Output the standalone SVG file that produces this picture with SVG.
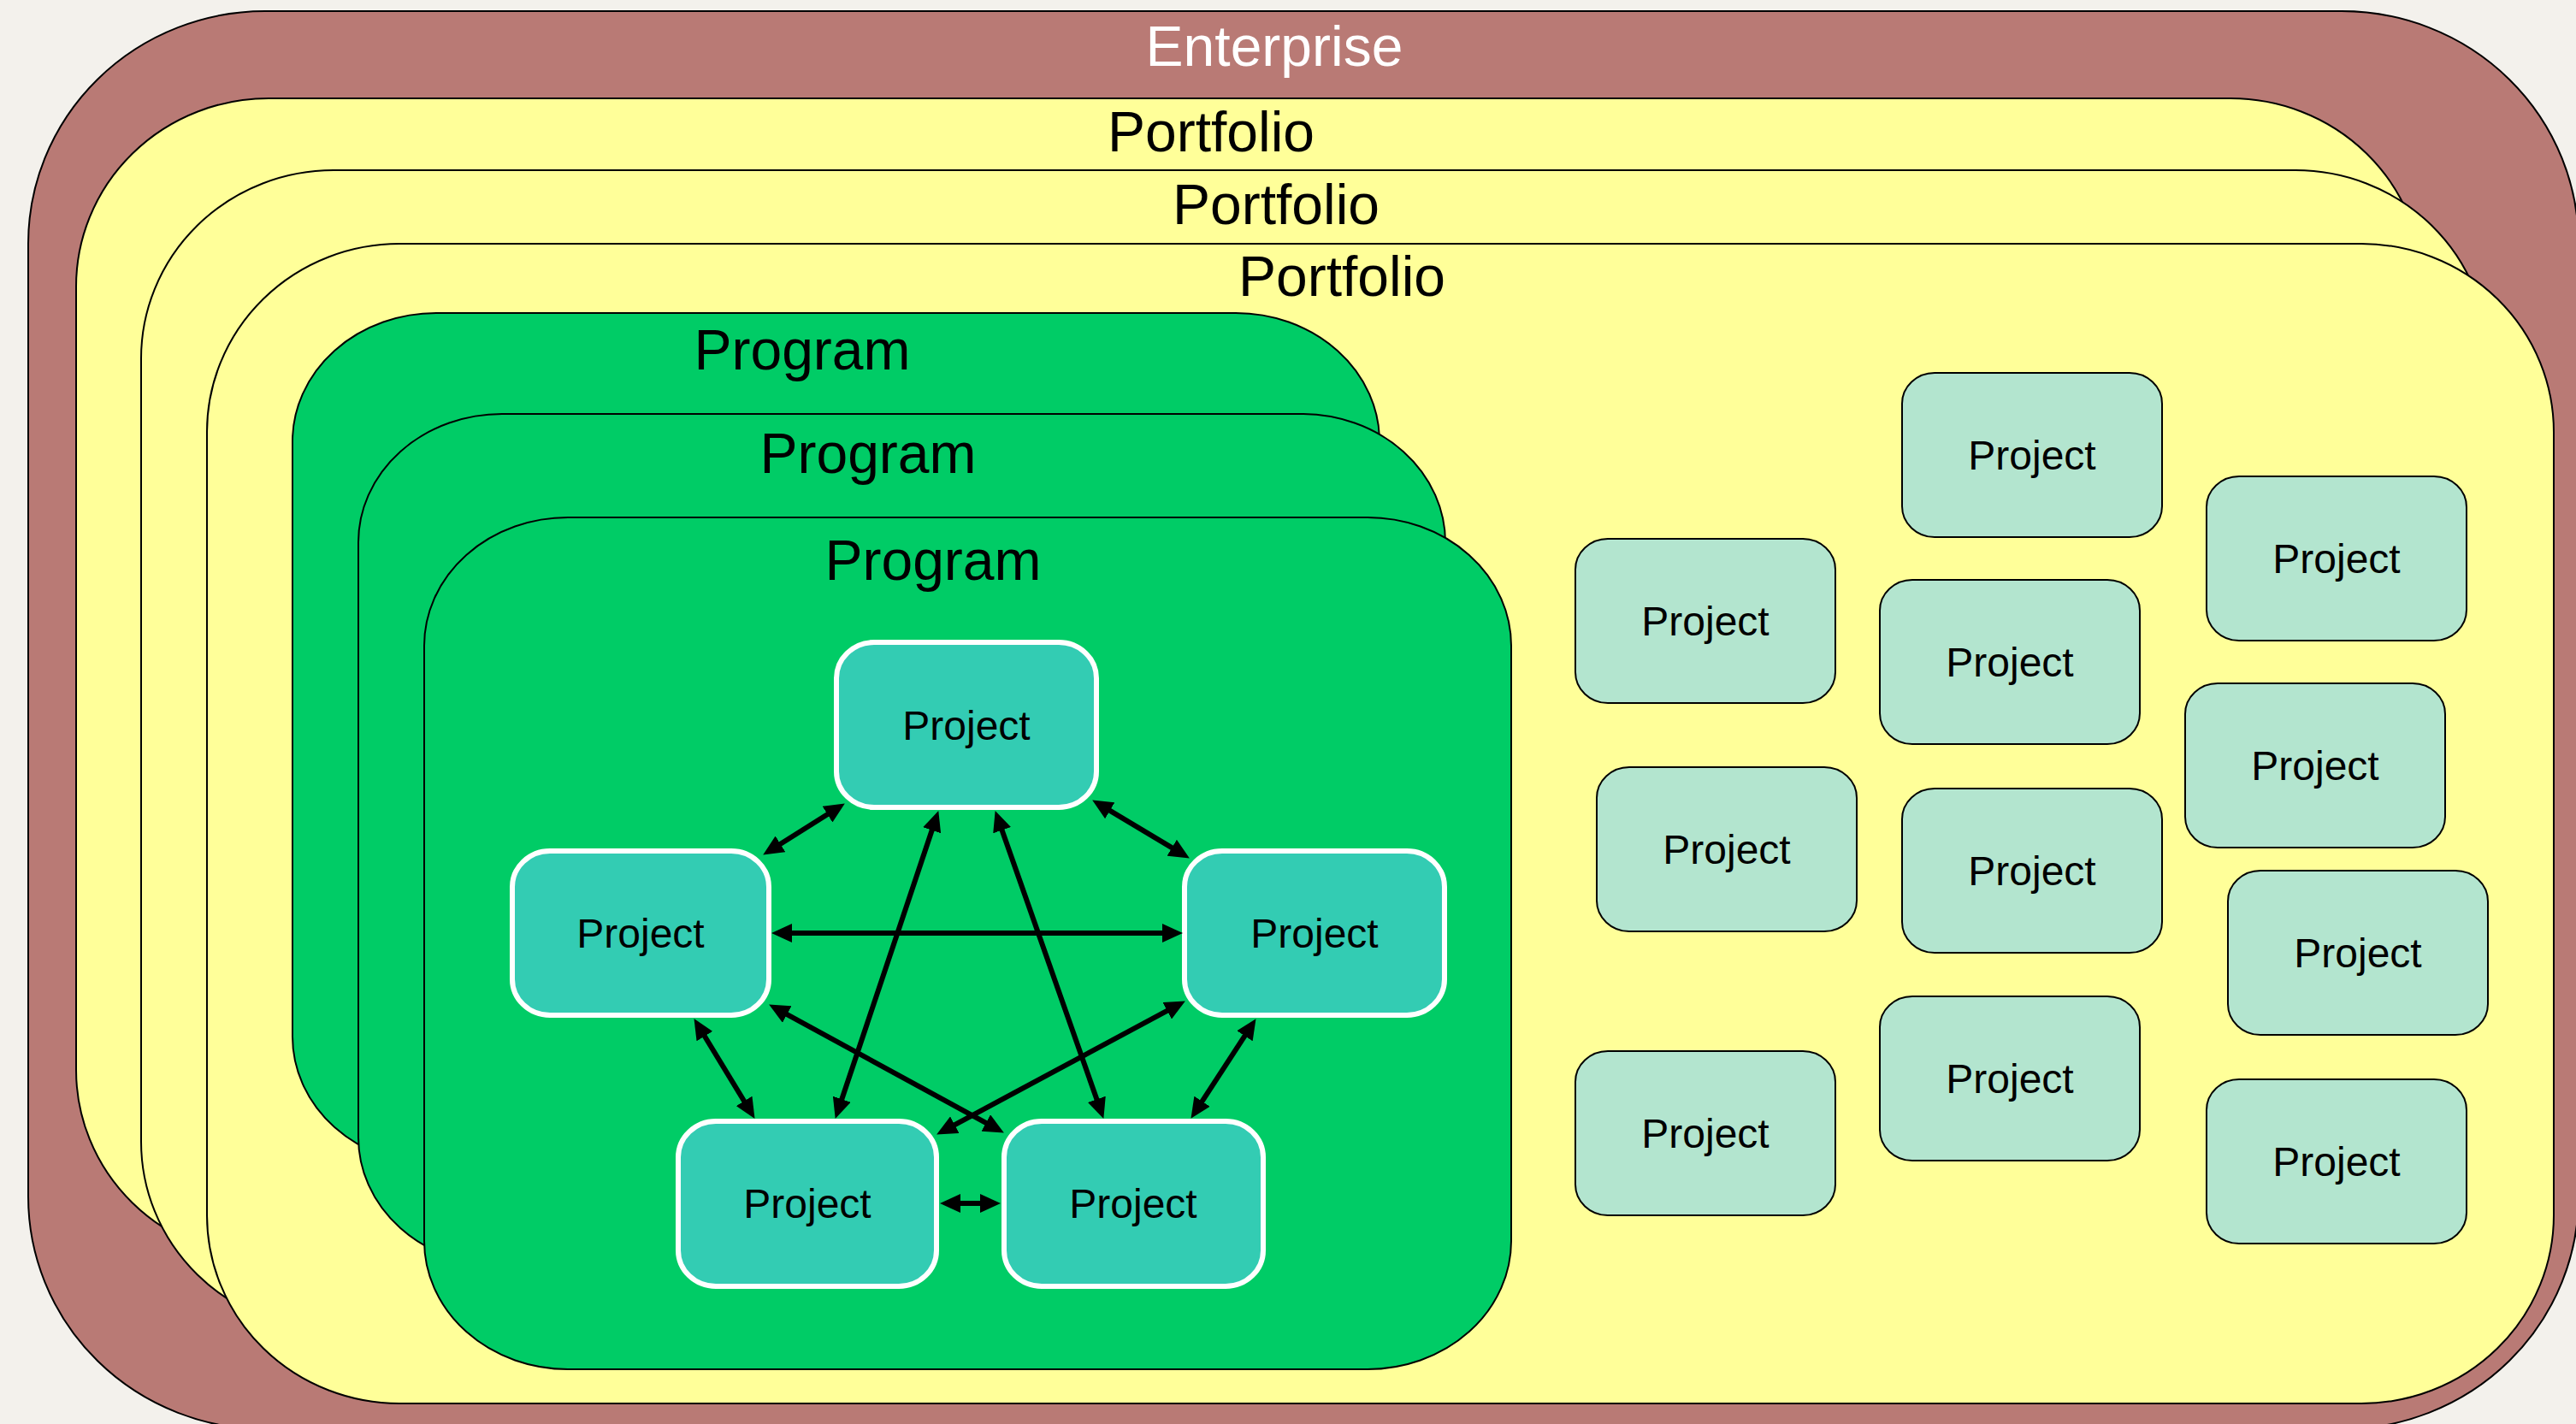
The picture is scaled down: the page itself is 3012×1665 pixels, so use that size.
<svg xmlns="http://www.w3.org/2000/svg" width="3012" height="1665" viewBox="0 0 3012 1665">
  <defs>
    <style>
      .lbl { font-family: "Liberation Sans", Arial, sans-serif; text-anchor: middle; }
      .big { font-size: 66px; }
      .proj { font-size: 48px; fill: #000; }
      .ent { fill: #B97A75; stroke: #000; stroke-width: 2; }
      .port { fill: #FFFF99; stroke: #000; stroke-width: 2; }
      .prog { fill: #00CC66; stroke: #000; stroke-width: 2; }
      .lp { fill: #B3E5CF; stroke: #000; stroke-width: 2; }
      .ip { fill: #33CCB3; stroke: #FFFFFF; stroke-width: 6; }
      .conn { stroke: #000; stroke-width: 6; fill: none; marker-start: url(#ah); marker-end: url(#ah); }
    </style>
    <marker id="ah" viewBox="0 0 24 22" markerWidth="24" markerHeight="22" refX="13" refY="11" orient="auto-start-reverse" markerUnits="userSpaceOnUse">
      <path d="M0,0 L24,11 L0,22 z" fill="#000"/>
    </marker>
  </defs>

  <rect x="0" y="0" width="3012" height="1665" fill="#F3F1EC"/>

  <g id="enterprise">
    <rect class="ent" x="33" y="13" width="2982" height="1658" rx="277" ry="272"/>
    <text class="lbl big" x="1490" y="77" fill="#FFFFFF">Enterprise</text>
  </g>

  <g id="portfolio1">
    <rect class="port" x="89" y="115" width="2744" height="1356" rx="225" ry="220"/>
    <text class="lbl big" x="1416" y="177" fill="#000">Portfolio</text>
  </g>
  <g id="portfolio2">
    <rect class="port" x="165" y="199" width="2744" height="1356" rx="225" ry="220"/>
    <text class="lbl big" x="1492" y="262" fill="#000">Portfolio</text>
  </g>
  <g id="portfolio3">
    <rect class="port" x="242" y="285" width="2744" height="1356" rx="225" ry="220"/>
    <text class="lbl big" x="1569" y="346" fill="#000">Portfolio</text>
  </g>

  <g id="program1">
    <rect class="prog" x="342" y="366" width="1271" height="996" rx="168" ry="150"/>
    <text class="lbl big" x="938" y="432" fill="#000">Program</text>
  </g>
  <g id="program2">
    <rect class="prog" x="419" y="484" width="1271" height="996" rx="168" ry="150"/>
    <text class="lbl big" x="1015" y="553" fill="#000">Program</text>
  </g>
  <g id="program3">
    <rect class="prog" x="496" y="605" width="1271" height="996" rx="168" ry="150"/>
    <text class="lbl big" x="1091" y="678" fill="#000">Program</text>
  </g>

  <g id="lp1"><rect class="lp" x="2224" y="436" width="304" height="192" rx="38" ry="36"/><text class="lbl proj" x="2376" y="549">Project</text></g>
  <g id="lp2"><rect class="lp" x="2580" y="557" width="304" height="192" rx="38" ry="36"/><text class="lbl proj" x="2732" y="670">Project</text></g>
  <g id="lp3"><rect class="lp" x="1842" y="630" width="304" height="192" rx="38" ry="36"/><text class="lbl proj" x="1994" y="743">Project</text></g>
  <g id="lp4"><rect class="lp" x="2198" y="678" width="304" height="192" rx="38" ry="36"/><text class="lbl proj" x="2350" y="791">Project</text></g>
  <g id="lp5"><rect class="lp" x="2555" y="799" width="304" height="192" rx="38" ry="36"/><text class="lbl proj" x="2707" y="912">Project</text></g>
  <g id="lp6"><rect class="lp" x="1867" y="897" width="304" height="192" rx="38" ry="36"/><text class="lbl proj" x="2019" y="1010">Project</text></g>
  <g id="lp7"><rect class="lp" x="2224" y="922" width="304" height="192" rx="38" ry="36"/><text class="lbl proj" x="2376" y="1035">Project</text></g>
  <g id="lp8"><rect class="lp" x="2605" y="1018" width="304" height="192" rx="38" ry="36"/><text class="lbl proj" x="2757" y="1131">Project</text></g>
  <g id="lp9"><rect class="lp" x="2198" y="1165" width="304" height="192" rx="38" ry="36"/><text class="lbl proj" x="2350" y="1278">Project</text></g>
  <g id="lp10"><rect class="lp" x="1842" y="1229" width="304" height="192" rx="38" ry="36"/><text class="lbl proj" x="1994" y="1342">Project</text></g>
  <g id="lp11"><rect class="lp" x="2580" y="1262" width="304" height="192" rx="38" ry="36"/><text class="lbl proj" x="2732" y="1375">Project</text></g>

  <g id="ipA"><rect class="ip" x="978" y="751" width="304" height="193" rx="44" ry="42"/><text class="lbl proj" x="1130" y="865">Project</text></g>
  <g id="ipB"><rect class="ip" x="599" y="995" width="300" height="192" rx="44" ry="42"/><text class="lbl proj" x="749" y="1108">Project</text></g>
  <g id="ipC"><rect class="ip" x="1385" y="995" width="304" height="192" rx="44" ry="42"/><text class="lbl proj" x="1537" y="1108">Project</text></g>
  <g id="ipD"><rect class="ip" x="793" y="1311" width="302" height="193" rx="44" ry="42"/><text class="lbl proj" x="944" y="1424">Project</text></g>
  <g id="ipE"><rect class="ip" x="1174" y="1311" width="303" height="193" rx="44" ry="42"/><text class="lbl proj" x="1325" y="1424">Project</text></g>

  <g id="connectors">
    <line class="conn" x1="978.5" y1="945.3" x2="901.5" y2="993.7"/>
    <line class="conn" x1="1286.6" y1="941.1" x2="1381.4" y2="997.9"/>
    <line class="conn" x1="913" y1="1091" x2="1372" y2="1091"/>
    <line class="conn" x1="1093.8" y1="958.5" x2="980.2" y2="1297.5"/>
    <line class="conn" x1="1167.3" y1="958.4" x2="1286.7" y2="1297.6"/>
    <line class="conn" x1="817.2" y1="1200.5" x2="876.8" y2="1298.5"/>
    <line class="conn" x1="1462.5" y1="1200.4" x2="1398.5" y2="1298.6"/>
    <line class="conn" x1="908.8" y1="1179.8" x2="1164.2" y2="1319.2"/>
    <line class="conn" x1="1376.2" y1="1175.7" x2="1104.8" y2="1321.3"/>
    <line class="conn" x1="1110" y1="1407" x2="1159" y2="1407"/>
  </g>
</svg>
